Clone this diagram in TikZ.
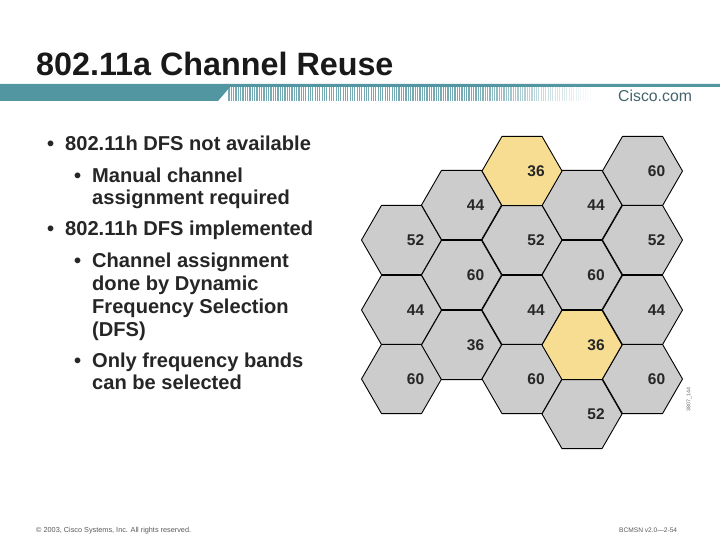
\documentclass[tikz,border=0pt]{standalone}
\usepackage{fontspec}
\setmainfont{Liberation Sans}
\usetikzlibrary{shapes.geometric}
\definecolor{barteal}{RGB}{82,150,162}
\definecolor{cellgray}{RGB}{204,204,204}
\definecolor{cellgold}{RGB}{246,221,146}
\definecolor{logoc}{RGB}{70,100,110}
\tikzset{
  hexcell/.style={regular polygon,regular polygon sides=6,minimum size=80pt,inner sep=0pt,outer sep=0pt,draw=black,line width=0.9pt,line join=round,fill=cellgray},
  goldcell/.style={hexcell,fill=cellgold},
  chan/.style={font=\fontsize{15.5}{18}\selectfont\bfseries,text=black!85,inner sep=0pt},
  body/.style={font=\fontsize{20.1}{24}\selectfont\bfseries,anchor=base west,inner sep=0pt,text=black!85},
  foot/.style={font=\fontsize{7.3}{9}\selectfont,anchor=base west,inner sep=0pt,text=black!65},
}
\newcommand{\hexat}[5]{%
  \node[#1] (h#2) at (#3,#4) {};
  \node[chan] (t#2) at ([xshift=14pt]h#2.center) {#5};
}
\begin{document}
\begin{tikzpicture}[x=1pt,y=-1pt]
\useasboundingbox (0,0) rectangle (720,540);
\fill[white] (0,0) rectangle (720,540);
% header
\node[font=\fontsize{32.3}{36}\selectfont\bfseries,anchor=base west,inner sep=0pt,text=black!90] (title) at (36,76) {802.11a Channel Reuse};
\fill[barteal] (0,84) -- (720,84) -- (720,87) -- (230,87) -- (218,101) -- (0,101) -- cycle;
\foreach \i in {0,...,155} {
  \pgfmathsetmacro{\xx}{229+\i*2.33}
  \pgfmathsetmacro{\op}{\xx<470?0.8:max(0,0.8*(595-\xx)/125)}
  \draw[barteal,line width=1.2pt,opacity=\op] (\xx,87) -- (\xx,101);
}
\node[font=\fontsize{15.8}{18}\selectfont,text=logoc,anchor=base west,inner sep=0pt] (logo) at (618,101.5) {Cisco.com};
% bullets
\node[body] (b1) at (47,151) {•};
\node[body] (l1) at (65,151) {802.11h DFS not available};
\node[body] (b2) at (74,183) {•};
\node[body] (l2) at (92,183) {Manual channel};
\node[body] (l3) at (92,205) {assignment required};
\node[body] (b3) at (47,236) {•};
\node[body] (l4) at (65,236) {802.11h DFS implemented};
\node[body] (b4) at (74,267) {•};
\node[body] (l5) at (92,267) {Channel assignment};
\node[body] (l6) at (92,290) {done by Dynamic};
\node[body] (l7) at (92,313) {Frequency Selection};
\node[body] (l8) at (92,336) {(DFS)};
\node[body] (b5) at (74,367) {•};
\node[body] (l9) at (92,367) {Only frequency bands};
\node[body] (l10) at (92,389) {can be selected};
% hexagons
\hexat{hexcell}{a}{401.5}{240}{52}
\hexat{hexcell}{b}{401.5}{310}{44}
\hexat{hexcell}{c}{401.5}{379}{60}
\hexat{hexcell}{d}{461.5}{205}{44}
\hexat{hexcell}{e}{461.5}{275}{60}
\hexat{hexcell}{f}{461.5}{345}{36}
\hexat{hexcell}{h}{522}{240}{52}
\hexat{hexcell}{i}{522}{310}{44}
\hexat{hexcell}{j}{522}{379}{60}
\hexat{hexcell}{k}{582}{205}{44}
\hexat{hexcell}{l}{582}{275}{60}
\hexat{hexcell}{m}{582}{414}{52}
\hexat{hexcell}{n}{642.5}{171}{60}
\hexat{hexcell}{o}{642.5}{240}{52}
\hexat{hexcell}{p}{642.5}{310}{44}
\hexat{hexcell}{q}{642.5}{379}{60}
\hexat{goldcell}{g}{522}{171}{36}
\hexat{goldcell}{r}{582}{345}{36}
% tag
\node[font=\fontsize{5.3}{6}\selectfont,text=black!60,rotate=90,inner sep=0pt] (tag) at (689,399.5) {3807\_144};
% footer
\node[foot] (copy) at (36,532) {© 2003, Cisco Systems, Inc. All rights reserved.};
\node[foot,font=\fontsize{6.6}{8}\selectfont] (code) at (619,532) {BCMSN v2.0—2-54};
\end{tikzpicture}
\end{document}
